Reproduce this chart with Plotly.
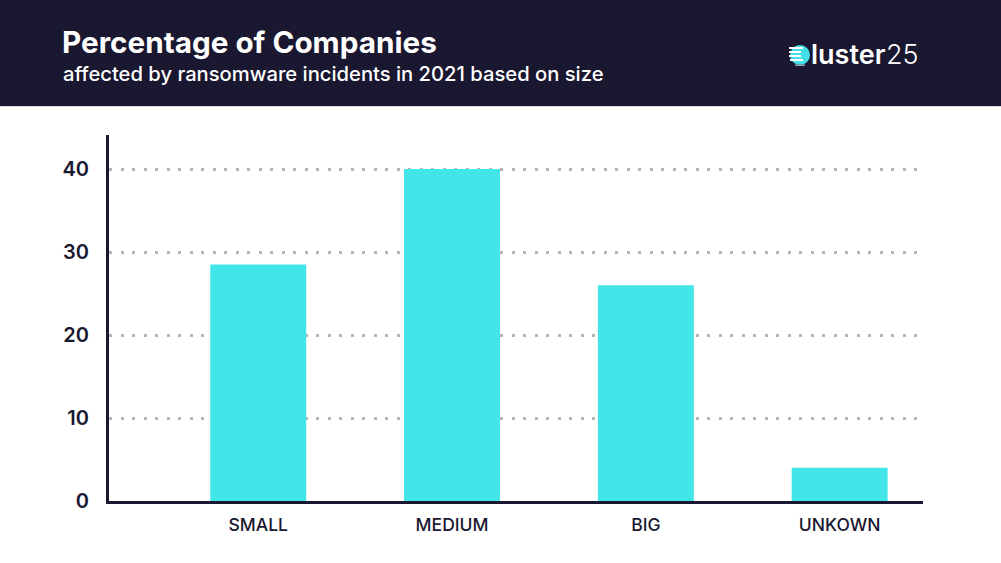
import plotly.graph_objects as go

categories = ["SMALL", "MEDIUM", "BIG", "UNKOWN"]
values = [28.5, 40, 26, 4]
y_ticks = [0, 10, 20, 30, 40]

W, H = 1001, 563
ML, MR, MT, MB = 109, 78, 135, 62
PW, PH = W - ML - MR, H - MT - MB

def px_x(x):
    return (x - ML) / PW

def px_y(y):
    return (H - MB - y) / PH

NAVY = "#1a1730"
CYAN = "#42e5e8"

fig = go.Figure(go.Bar(
    x=categories, y=values,
    marker=dict(color=CYAN, line=dict(width=0)),
    width=0.495,
    hoverinfo="x+y",
))

fig.update_layout(
    width=W, height=H,
    margin=dict(l=ML, r=MR, t=MT, b=MB),
    paper_bgcolor="white", plot_bgcolor="white",
    showlegend=False,
    font=dict(family="Inter, Noto Sans, sans-serif", color=NAVY),
    xaxis=dict(
        range=[-0.77, 3.43], showgrid=False, zeroline=False,
        showline=True, linecolor=NAVY, linewidth=3,
        ticks="", tickfont=dict(size=17.5, color=NAVY, family="Inter, sans-serif", weight=500),
        ticklabelstandoff=6,
    ),
    yaxis=dict(
        range=[0, 44.1], tickvals=y_ticks, ticktext=[str(v) for v in y_ticks],
        showgrid=True, gridcolor="#b5b5b5", gridwidth=2.5, griddash="3px,8.5px",
        zeroline=False, showline=True, linecolor=NAVY, linewidth=3,
        ticks="", tickfont=dict(size=20, color=NAVY, family="Inter, sans-serif", weight=600),
        ticklabelstandoff=13,
    ),
    shapes=[
        dict(type="rect", xref="paper", yref="paper",
             x0=px_x(0), x1=px_x(W), y0=px_y(106), y1=px_y(0),
             fillcolor=NAVY, line=dict(width=0), layer="above"),
        dict(type="line", xref="paper", yref="paper",
             x0=px_x(0), x1=px_x(W), y0=px_y(106.5), y1=px_y(106.5),
             line=dict(color="#d8d8de", width=1), layer="above"),
        # logo circle
        dict(type="circle", xref="paper", yref="paper",
             x0=px_x(790), x1=px_x(810), y0=px_y(65), y1=px_y(45),
             fillcolor="#45dde6", line=dict(width=0), layer="above"),
        dict(type="rect", xref="paper", yref="paper",
             x0=px_x(789), x1=px_x(803), y0=px_y(49), y1=px_y(47),
             fillcolor="white", line=dict(width=0), layer="above"),
        dict(type="rect", xref="paper", yref="paper",
             x0=px_x(789), x1=px_x(801), y0=px_y(53), y1=px_y(51),
             fillcolor="white", line=dict(width=0), layer="above"),
        dict(type="rect", xref="paper", yref="paper",
             x0=px_x(789), x1=px_x(801), y0=px_y(57), y1=px_y(55),
             fillcolor="white", line=dict(width=0), layer="above"),
        dict(type="rect", xref="paper", yref="paper",
             x0=px_x(790), x1=px_x(803), y0=px_y(61), y1=px_y(59),
             fillcolor="white", line=dict(width=0), layer="above"),
        dict(type="rect", xref="paper", yref="paper",
             x0=px_x(795), x1=px_x(805), y0=px_y(66), y1=px_y(64.5),
             fillcolor="#9aa0b0", line=dict(width=0), layer="above"),
    ],
    annotations=[
        dict(text="<b>Percentage of Companies</b>", xref="paper", yref="paper",
             x=px_x(60), y=px_y(42), xanchor="left", yanchor="middle",
             showarrow=False, font=dict(size=29.7, color="white", family="Inter, sans-serif")),
        dict(text="affected by ransomware incidents in 2021 based on size", xref="paper", yref="paper",
             x=px_x(61), y=px_y(73), xanchor="left", yanchor="middle",
             showarrow=False, font=dict(size=20.2, color="white", family="Inter, sans-serif", weight=500)),
        dict(text="luster", xref="paper", yref="paper",
             x=px_x(809), y=px_y(55), xanchor="left", yanchor="middle",
             showarrow=False, font=dict(size=27, color="white", family="Inter, sans-serif", weight=600)),
        dict(text="25", xref="paper", yref="paper",
             x=px_x(884), y=px_y(55), xanchor="left", yanchor="middle",
             showarrow=False, font=dict(size=27, color="white", family="Inter, sans-serif", weight=300)),
    ],
)

fig.write_html("out.html")
